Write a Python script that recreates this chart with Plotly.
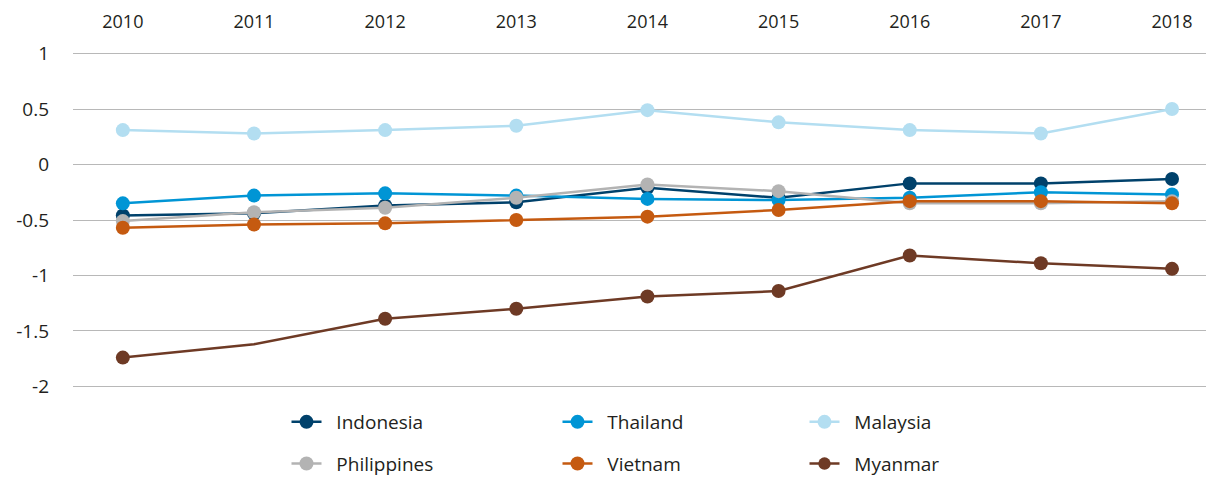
import plotly.graph_objects as go

years = ["2010", "2011", "2012", "2013", "2014", "2015", "2016", "2017", "2018"]

indonesia = [-0.46, -0.44, -0.37, -0.34, -0.21, -0.30, -0.17, -0.17, -0.13]
thailand = [-0.35, -0.28, -0.26, -0.28, -0.31, -0.32, -0.30, -0.25, -0.27]
malaysia = [0.31, 0.28, 0.31, 0.35, 0.49, 0.38, 0.31, 0.28, 0.50]
philippines = [-0.51, -0.43, -0.39, -0.30, -0.18, -0.24, -0.35, -0.35, -0.33]
vietnam = [-0.57, -0.54, -0.53, -0.50, -0.47, -0.41, -0.33, -0.33, -0.35]
myanmar = [-1.74, -1.62, -1.39, -1.30, -1.19, -1.14, -0.82, -0.89, -0.94]

y_tickvals = [1, 0.5, 0, -0.5, -1, -1.5, -2]
y_ticktext = ["1", "0.5", "0", "-0.5", "-1", "-1.5", "-2"]

series = [
    ("Indonesia", indonesia, "#00416b", "legend"),
    ("Philippines", philippines, "#b3b3b3", "legend"),
    ("Thailand", thailand, "#0095d5", "legend2"),
    ("Vietnam", vietnam, "#c55a10", "legend2"),
    ("Malaysia", malaysia, "#b3def1", "legend3"),
    ("Myanmar", myanmar, "#6e3a25", "legend3"),
]
draw_order = ["Indonesia", "Thailand", "Malaysia", "Philippines", "Vietnam", "Myanmar"]
rank = {"Indonesia": 1, "Philippines": 2, "Thailand": 1, "Vietnam": 2,
        "Malaysia": 1, "Myanmar": 2}
lookup = {s[0]: s for s in series}

FONT = "Open Sans"
TXT = "#231f20"
PAD = "\u00a0\u00a0"  # small visual gap between legend symbol and label

fig = go.Figure()
for name in draw_order:
    _, vals, color, leg = lookup[name]
    sizes = [14] * len(vals)
    if name == "Myanmar":
        sizes[1] = 0
    fig.add_trace(go.Scatter(
        x=years, y=vals, name=PAD + name, mode="lines+markers",
        line=dict(color=color, width=2.5),
        marker=dict(color=color, size=sizes, opacity=1, line=dict(width=0)),
        legend=leg, legendgroup=name, legendrank=rank[name],
    ))

W, H = 1214, 477
leg_common = dict(
    xref="container", yref="container", yanchor="top", xanchor="left",
    font=dict(family=FONT, size=19, color=TXT),
    traceorder="grouped", tracegroupgap=14, itemwidth=30,
    bgcolor="rgba(0,0,0,0)", borderwidth=0,
)
top_y = 1 - 395 / H
fig.update_layout(
    width=W, height=H,
    margin=dict(l=65, r=8, t=40, b=93, autoexpand=False),
    paper_bgcolor="white", plot_bgcolor="white",
    font=dict(family=FONT, size=19, color=TXT),
    showlegend=True,
    legend=dict(x=278.5 / W, y=top_y, **leg_common),
    legend2=dict(x=549.5 / W, y=top_y, **leg_common),
    legend3=dict(x=796.5 / W, y=top_y, **leg_common),
    xaxis=dict(
        type="category", side="top", range=[-0.38, 8.32],
        showgrid=False, showline=False, zeroline=False, ticks="",
        tickfont=dict(family=FONT, size=18, color=TXT),
        ticklabelstandoff=15, tickangle=0,
    ),
    yaxis=dict(
        range=[-2.05, 1.05], tickvals=y_tickvals, ticktext=y_ticktext,
        showgrid=True, gridcolor="#b8b8b8", gridwidth=1,
        zeroline=False, showline=False, ticks="",
        tickfont=dict(family=FONT, size=19, color=TXT),
        ticklabelstandoff=23,
    ),
)

fig.write_html("out.html")
